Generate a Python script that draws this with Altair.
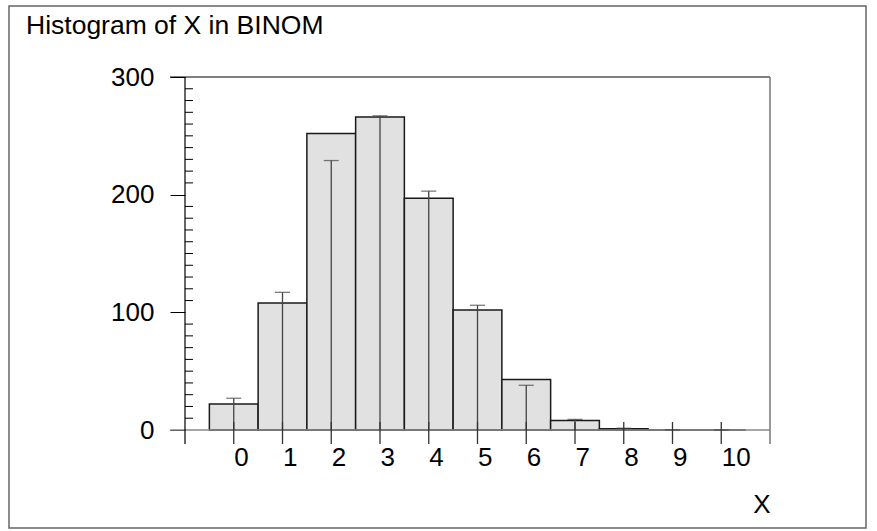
import altair as alt
import pandas as pd

# ---- data ----
x_values = list(range(11))
observed = [22, 108, 252, 266, 197, 102, 43, 8, 1, 0, 0]
expected = [27, 117, 229, 267, 203, 106, 38, 9, 1.5, 0.1, 0]
y_major_ticks = [0, 100, 200, 300]
y_minor_ticks = [v for v in range(10, 300, 10) if v % 100 != 0]
title_text = "Histogram of X in BINOM"
x_title = "X"

W, H = 585, 353
FONT = "Liberation Sans"
FS = 26

df = pd.DataFrame({"X": x_values, "count": observed, "expected": expected})
df["lo"] = df["X"] - 0.5
df["hi"] = df["X"] + 0.5

one = pd.DataFrame({"d": [0]})

xs = alt.Scale(domain=[-1, 11], nice=False, zero=False)
ys = alt.Scale(domain=[0, 300], nice=False)

x_axis = alt.Axis(
    values=x_values, title=x_title, domain=False, ticks=False, grid=False,
    labelAlign="left", labelBaseline="top", labelFontSize=FS, labelFont=FONT,
    labelColor="black", labelPadding=14, labelOverlap=False, labelFlush=False, format="d",
    titleFontSize=FS, titleFont=FONT, titleFontWeight="normal", titleColor="black",
    titleX=W, titleY=82, titleAlign="right", titleBaseline="alphabetic")
y_axis = alt.Axis(
    values=y_major_ticks, title="", domain=False, ticks=True, tickSize=15,
    tickColor="black", tickWidth=1, grid=False, labelFontSize=FS, labelFont=FONT,
    labelColor="black", labelPadding=16, labelFlush=False, format="d")

frame = alt.Chart(one).mark_rect(fill="white", fillOpacity=0, stroke="#666", strokeWidth=1.5).encode(
    x=alt.value(9 - 185), x2=alt.value(866 - 185), y=alt.value(6 - 77), y2=alt.value(528 - 77)
)

title = alt.Chart(pd.DataFrame({"t": [title_text]})).mark_text(
    align="left", baseline="alphabetic", fontSize=26.5, font=FONT, color="black"
).encode(text="t:N", x=alt.value(26 - 185), y=alt.value(34 - 77))

baseline = alt.Chart(one).mark_rule(color="#888", strokeWidth=1.5).encode(
    x=alt.value(-15), x2=alt.value(W), y=alt.value(H)
)
topline = alt.Chart(one).mark_rule(color="black", strokeWidth=1.2).encode(
    x=alt.value(-15), x2=alt.value(W), y=alt.value(0)
)
leftline = alt.Chart(one).mark_rule(color="black", strokeWidth=1.2).encode(
    x=alt.value(0), y=alt.value(0), y2=alt.value(H + 14)
)
rightline = alt.Chart(one).mark_rule(color="#777", strokeWidth=1.5).encode(
    x=alt.value(W), y=alt.value(0), y2=alt.value(H + 14)
)

bars = alt.Chart(df).mark_rect(fill="#e1e1e1", stroke="#1a1a1a", strokeWidth=1.5).encode(
    x=alt.X("lo:Q", scale=xs, axis=x_axis),
    x2="hi:Q",
    y=alt.Y("count:Q", scale=ys, axis=y_axis),
    y2=alt.datum(0),
)

minor = alt.Chart(pd.DataFrame({"v": y_minor_ticks})).mark_rule(color="black", strokeWidth=1).encode(
    y=alt.Y("v:Q", scale=ys, axis=y_axis), x=alt.value(0), x2=alt.value(8)
)

exp_line = alt.Chart(df).mark_rule(color="#444", strokeWidth=1.3).encode(
    x=alt.X("X:Q", scale=xs, axis=x_axis),
    y=alt.Y("expected:Q", scale=ys, axis=y_axis),
    y2=alt.datum(0),
)
caps = alt.Chart(df).mark_tick(orient="horizontal", size=15, thickness=1.3, color="#444").encode(
    x=alt.X("X:Q", scale=xs, axis=x_axis),
    y=alt.Y("expected:Q", scale=ys, axis=y_axis),
)

xticks = alt.Chart(pd.DataFrame({"t": x_values})).mark_rule(color="#333", strokeWidth=1.3).encode(
    x=alt.X("t:Q", scale=xs, axis=x_axis), y=alt.value(H - 8), y2=alt.value(H + 14)
)

chart = alt.layer(
    bars, frame, title, baseline, topline, leftline, rightline, minor, exp_line, caps, xticks
).properties(
    width=W, height=H,
    autosize=alt.AutoSizeParams(type="none"),
    padding={"left": 185, "top": 77, "right": 877 - 185 - W, "bottom": 531 - 77 - H},
    background="white",
).configure_view(stroke="transparent")

chart.save("out.html", embed_options={"renderer": "svg", "actions": False})
